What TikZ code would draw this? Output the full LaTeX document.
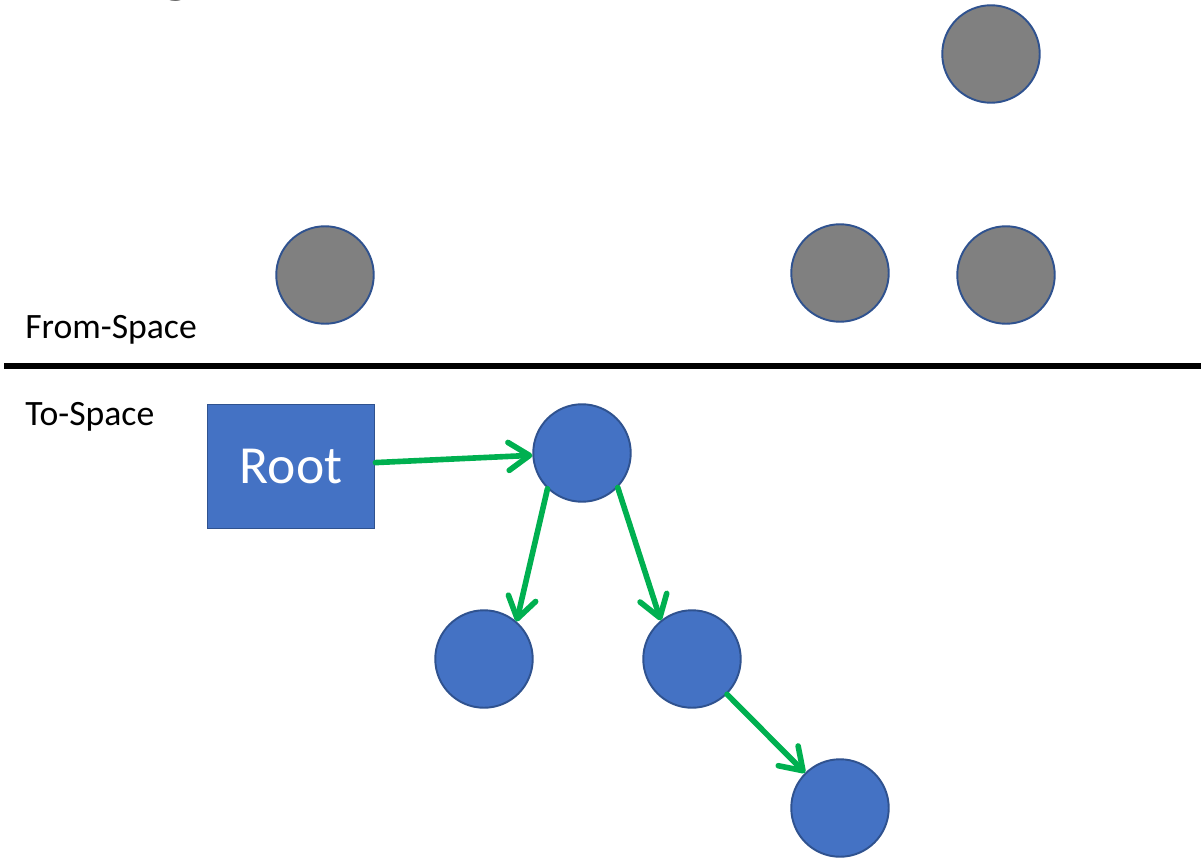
\documentclass[tikz,border=0pt]{standalone}
\usepackage{fontspec}
\setmainfont{Carlito}
\usetikzlibrary{arrows.meta}

\definecolor{objblue}{HTML}{4472C4}
\definecolor{objedge}{HTML}{2F528F}
\definecolor{objgray}{HTML}{808080}
\definecolor{ptrgreen}{HTML}{00B050}

\begin{document}
\begin{tikzpicture}[x=0.02cm, y=-0.02cm,
    obj/.style={circle, draw=objedge, line width=1.1pt, minimum size=1.95cm, inner sep=0pt},
    oldobj/.style={obj, fill=objgray},
    newobj/.style={obj, fill=objblue},
    ptr/.style={draw=ptrgreen, line width=3.2pt, line cap=round,
        -{Straight Barb[length=4.2mm, width=5.6mm, round]}},
    spacelabel/.style={anchor=base west, inner sep=0pt, font=\fontsize{20.3}{24}\selectfont}]
    \useasboundingbox (0,0) rectangle (1201,859);
    \clip (0,0) rectangle (1201,859);

    % heading, mostly above the page
    \node[anchor=base west, inner sep=0pt, font=\fontsize{45}{54}\selectfont] (head) at (157,-13) {g};

    % from-space
    \node[oldobj] (f1) at (991,54) {};
    \node[oldobj] (f2) at (325,275) {};
    \node[oldobj] (f3) at (840,273) {};
    \node[oldobj] (f4) at (1006,275) {};
    \node[spacelabel] (fromlbl) at (25,338) {From-Space};

    \draw[line width=3.4pt] (4,366) -- (1201,366);

    % to-space
    \node[spacelabel] (tolbl) at (25,425) {To-Space};
    \node[draw=objedge, fill=objblue, line width=1.1pt, minimum width=3.34cm, minimum height=2.48cm,
        text=white, font=\fontsize{30.5}{36}\selectfont] (root) at (291,466.5) {Root};
    \node[newobj] (a) at (582,453) {};
    \node[newobj] (b) at (484,659) {};
    \node[newobj] (c) at (692,659) {};
    \node[newobj] (d) at (840,808) {};

    \draw[ptr] (root) -- (a);
    \draw[ptr] (a.226) -- (b.49);
    \draw[ptr] (a.316) -- (c.129);
    \draw[ptr] (c) -- (d);
\end{tikzpicture}
\end{document}
